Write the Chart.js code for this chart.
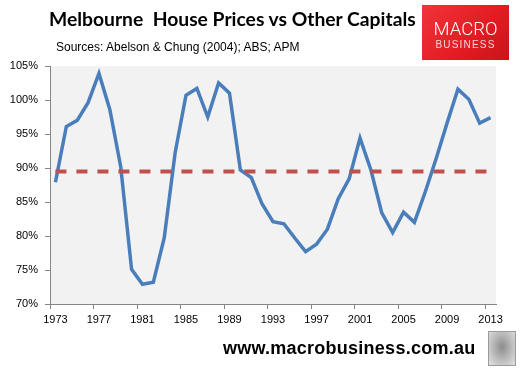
<!DOCTYPE html>
<html>
<head>
<meta charset="utf-8">
<script src="https://cdn.jsdelivr.net/npm/chart.js@4/dist/chart.umd.min.js"></script>
<style>
  html, body { margin: 0; padding: 0; background: #fff; }
  #wrap { position: relative; width: 523px; height: 376px; overflow: hidden; }
  #chart { position: absolute; left: 0; top: 0; }
  .txt { position: absolute; white-space: nowrap; color: #000; font-family: "Liberation Sans", Arial, sans-serif; }
  #title { left: 49px; top: 7px; font-family: Lato, sans-serif; font-size: 19.3px; font-weight: bold; }
  #sub { left: 56px; top: 40px; font-size: 12px; }
  #logo { position: absolute; left: 422px; top: 5px; width: 87px; height: 55px;
          background: linear-gradient(135deg, #f0353a 0%, #e21b22 60%, #c8141a 100%); }
  #logo .m { position: absolute; left: 0; width: 87px; text-align: center; top: 13px; color: #fff;
             font: 300 18.5px Roboto, "Liberation Sans", sans-serif; }
  #logo .b { position: absolute; left: 0; width: 87px; text-align: center; top: 34px; color: #f6d6d6;
             font: 10px "Liberation Sans", Arial, sans-serif; letter-spacing: 1.2px; }
  #site { left: 223px; top: 338px; font-size: 18px; font-weight: bold; letter-spacing: 0.25px; }
  #wolf { position: absolute; left: 488px; top: 331px; width: 26px; height: 33px; border: 1px solid #9a9a9a;
          background: radial-gradient(ellipse at 50% 45%, #8c8c8c 0%, #b5b5b5 45%, #e2e2e2 100%); }
</style>
</head>
<body>
<div id="wrap">
  <canvas id="chart" width="523" height="376"></canvas>
  <div class="txt" id="title">Melbourne&nbsp; House Prices vs Other Capitals</div>
  <div class="txt" id="sub">Sources: Abelson &amp; Chung (2004); ABS; APM</div>
  <div id="logo"><div class="m">MACRO</div><div class="b">BUSINESS</div></div>
  <div class="txt" id="site">www.macrobusiness.com.au</div>
  <div id="wolf"></div>
</div>
<script>
// years 1973..2013
const years = [
  "1973", "1974", "1975", "1976", "1977", "1978", "1979", "1980", "1981", "1982",
  "1983", "1984", "1985", "1986", "1987", "1988", "1989", "1990", "1991", "1992",
  "1993", "1994", "1995", "1996", "1997", "1998", "1999", "2000", "2001", "2002",
  "2003", "2004", "2005", "2006", "2007", "2008", "2009", "2010", "2011", "2012",
  "2013"
];

// Melbourne house prices relative to other capitals (%)
const melbourneRatio = [
  87.9, 96.1, 97.0, 99.6, 103.9, 98.6, 90.2, 75.1, 72.9, 73.2,
  79.7, 92.2, 100.7, 101.7, 97.5, 102.5, 101.0, 89.7, 88.6, 84.7,
  82.1, 81.8, 79.7, 77.7, 78.8, 81.0, 85.5, 88.4, 94.4, 89.7,
  83.4, 80.5, 83.5, 82.0, 86.5, 91.4, 96.6, 101.6, 100.1, 96.6,
  97.4
];

// long-run average (dashed)
const averageLevel = 89.5;
const averageSpan = ["1973", "2013"];

const yTicks = { min: 70, max: 105, step: 5 };

const plotBg = {
  id: "plotBg",
  beforeDraw(chart) {
    const { ctx, chartArea: a } = chart;
    ctx.save();
    ctx.fillStyle = "#f2f2f2";
    ctx.fillRect(a.left, a.top, a.right - a.left, a.bottom - a.top);
    ctx.restore();
  }
};

const axisFont = { family: "'Liberation Sans', Arial, sans-serif", size: 11 };

new Chart(document.getElementById("chart"), {
  type: "line",
  data: {
    labels: years,
    datasets: [
      {
        label: "Melbourne vs other capitals",
        data: melbourneRatio,
        borderColor: "#4a7ebb",
        borderWidth: 3.5,
        pointRadius: 0,
        tension: 0,
        order: 2
      },
      {
        label: "Average",
        data: averageSpan.map(y => ({ x: y, y: averageLevel })),
        borderColor: "#c0504d",
        borderWidth: 4,
        borderDash: [11, 10],
        pointRadius: 0,
        order: 1
      }
    ]
  },
  options: {
    responsive: false,
    animation: false,
    devicePixelRatio: 1,
    layout: { padding: { top: 66, right: 27, left: 0, bottom: 0 } },
    plugins: { legend: { display: false }, tooltip: { enabled: false } },
    scales: {
      x: {
        offset: true,
        grid: {
          offset: true,
          drawOnChartArea: false,
          tickLength: 5,
          tickColor: c => (c.index % 4 === 0 ? "#868686" : "rgba(0,0,0,0)")
        },
        border: { color: "#868686", width: 1 },
        ticks: {
          autoSkip: false,
          maxRotation: 0,
          color: "#000",
          font: axisFont,
          padding: 4,
          callback: (v, i) => (i % 4 === 0 ? years[i] : "")
        },
        afterFit: s => { s.height = 72; }
      },
      y: {
        min: yTicks.min,
        max: yTicks.max,
        grid: { drawOnChartArea: false, tickLength: 5, tickColor: "#868686" },
        border: { color: "#868686", width: 1 },
        ticks: {
          stepSize: yTicks.step,
          color: "#000",
          font: axisFont,
          padding: 7,
          callback: v => v + "%"
        },
        afterFit: s => { s.width = 50; }
      }
    }
  },
  plugins: [plotBg]
});
</script>
</body>
</html>
